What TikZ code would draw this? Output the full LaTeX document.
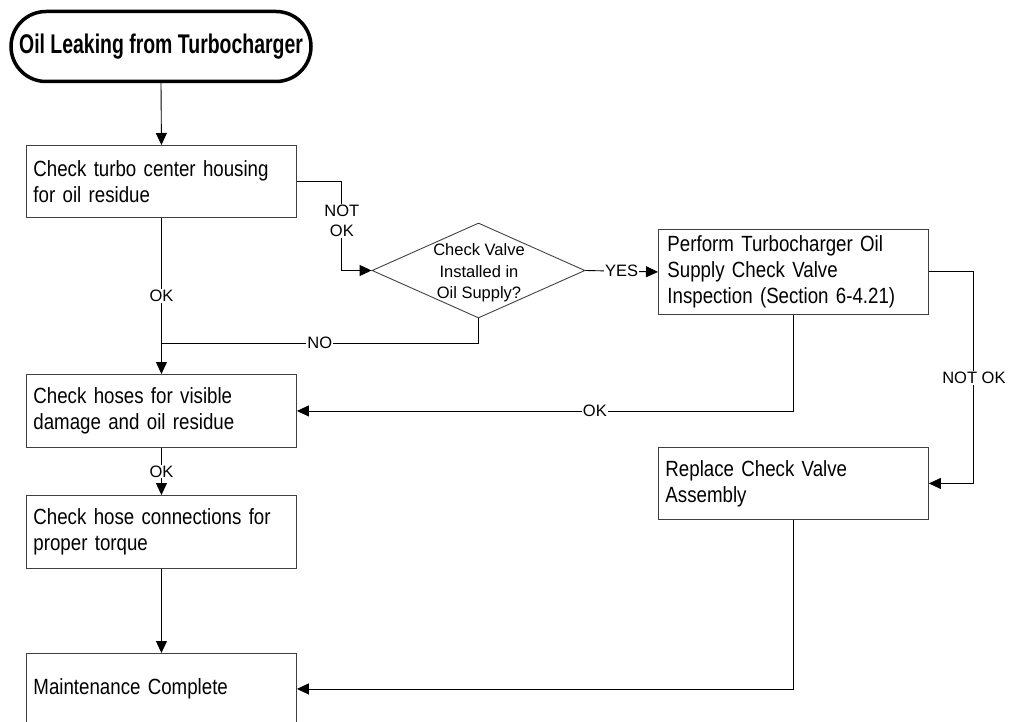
\documentclass[tikz,border=0pt]{standalone}
\usepackage{fontspec}
\setmainfont{Liberation Sans}
\newfontfamily\boxfont[FakeStretch=0.85]{Liberation Sans}
\newfontfamily\titlefont[FakeStretch=0.72]{Liberation Sans}
\newcommand\myboxsetup{\boxfont\fontsize{22}{26}\selectfont}
\newcommand\mytitlesetup{\titlefont\bfseries\fontsize{27}{30}\selectfont}
\usetikzlibrary{arrows.meta,shapes.geometric}
\begin{document}
\begin{tikzpicture}[x=1pt,y=-1pt,
  stepbox/.style={draw=black!75, line width=0.9pt, rectangle, anchor=north west,
    inner xsep=7pt, inner ysep=0pt, text width=256pt, align=left,
    font=\myboxsetup},
  termbox/.style={draw=black, line width=3.5pt, rectangle, rounded corners=35pt,
    minimum width=300pt, minimum height=70pt, inner sep=0pt,
    font=\mytitlesetup},
  decision/.style={draw=black!75, line width=0.9pt, diamond, minimum width=213pt,
    minimum height=95pt, inner sep=0pt},
  dtext/.style={align=center, font=\fontsize{16.5}{21.5}\selectfont},
  lbl/.style={fill=white, inner sep=1pt, align=center, font=\fontsize{16.5}{20.5}\selectfont},
  conn/.style={draw=black, line width=0.9pt},
  arr/.style={conn, -{Triangle[length=12pt,width=11pt]}}
]
\useasboundingbox (0,0) rectangle (1015,722);

\node[termbox] (term) at (161,46.5) {Oil Leaking from Turbocharger};
\node[stepbox, minimum height=72pt] (b1) at (26,145) {Check turbo center housing\\for oil residue};
\node[decision] (dia) at (478.5,270.5) {};
\node[dtext] (diat) at (479,273) {Check Valve\\Installed in\\Oil Supply?};
\node[stepbox, minimum height=85pt, inner xsep=9pt, text width=252pt] (perf) at (658,229) {Perform Turbocharger Oil\\Supply Check Valve\\Inspection (Section 6-4.21)};
\node[stepbox, minimum height=73pt] (b2) at (26,374) {Check hoses for visible\\damage and oil residue};
\node[stepbox, minimum height=73pt] (b3) at (26,495) {Check hose connections for\\proper torque};
\node[stepbox, minimum height=72pt] (rep) at (658,447) {Replace Check Valve\\Assembly};
\node[stepbox, minimum height=71pt] (maint) at (26,653) {Maintenance Complete};

\coordinate (j) at (161,343);

\draw[arr] (term.south) -- (b1.north);
\draw[arr] (b1.east) -- ++(45,0) |- node[lbl, pos=0.22] {NOT\\OK} (dia.west);
\draw[arr] (dia.east) -- node[lbl] {YES} (perf.west);
\draw[conn] (dia.south) |- node[lbl, pos=0.75] {NO} (j);
\draw[arr] (b1.south) -- node[lbl] {OK} (b2.north);
\draw[arr] (perf.south) |- node[lbl, pos=0.7] {OK} (b2.east);
\draw[arr] (perf.east) -- ++(45,0) |- node[lbl, pos=0.25] {NOT OK} (rep.east);
\draw[arr] (b2.south) -- node[lbl] {OK} (b3.north);
\draw[arr] (b3.south) -- (maint.north);
\draw[arr] (rep.south) |- (maint.east);
\end{tikzpicture}
\end{document}
